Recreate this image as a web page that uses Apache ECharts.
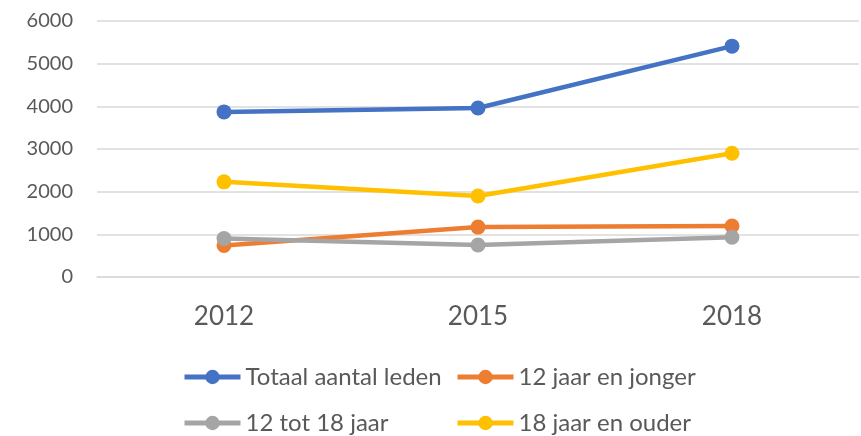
<!DOCTYPE html>
<html>
<head>
<meta charset="utf-8">
<script src="https://cdn.jsdelivr.net/npm/echarts@6/dist/echarts.min.js"></script>
<style>
  html, body { margin: 0; padding: 0; background: #fff; }
  #lineChart { width: 861px; height: 436px; }
</style>
</head>
<body>
<div id="lineChart"></div>
<script>
// data
var years = ['2012', '2015', '2018'];
var totaal = [3870, 3960, 5410];
var jonger12 = [740, 1170, 1195];
var tot18 = [900, 750, 930];
var ouder18 = [2230, 1900, 2900];
var yTicks = [0, 1000, 2000, 3000, 4000, 5000, 6000];

var font = 'Lato';
var textColor = '#595959';

function makeSeries(name, color, data) {
  return {
    name: name,
    type: 'line',
    data: data,
    symbol: 'circle',
    symbolSize: 15,
    itemStyle: { color: color },
    lineStyle: { color: color, width: 4.5 },
    emphasis: { disabled: true }
  };
}

// one legend per entry so the two columns line up
function makeLegend(name, left, top) {
  return {
    data: [name],
    left: left,
    top: top,
    itemWidth: 56,
    itemHeight: 18,
    lineStyle: { width: 5 },
    textStyle: { fontFamily: font, fontSize: 24, color: textColor }
  };
}

var chart = echarts.init(document.getElementById('lineChart'));
chart.setOption({
  animation: false,
  grid: { left: 97, right: 2, top: 21, bottom: 159 },
  legend: [
    makeLegend('Totaal aantal leden', 177, 360),
    makeLegend('12 jaar en jonger', 450, 360),
    makeLegend('12 tot 18 jaar', 177, 406),
    makeLegend('18 jaar en ouder', 450, 406)
  ],
  xAxis: {
    type: 'category',
    data: years,
    boundaryGap: true,
    axisLine: { show: true, lineStyle: { color: '#D9D9D9', width: 1.5 } },
    axisTick: { show: false },
    axisLabel: { fontFamily: font, fontSize: 26, color: textColor, margin: 27 }
  },
  yAxis: {
    type: 'value',
    min: yTicks[0],
    max: yTicks[yTicks.length - 1],
    interval: 1000,
    axisLine: { show: false },
    axisTick: { show: false },
    splitLine: { lineStyle: { color: '#D9D9D9', width: 1.5 } },
    axisLabel: {
      fontFamily: font, fontSize: 20, color: textColor, margin: 24,
      formatter: function (v) { return String(v); }
    }
  },
  series: [
    makeSeries('Totaal aantal leden', '#4472C4', totaal),
    makeSeries('12 jaar en jonger', '#ED7D31', jonger12),
    makeSeries('12 tot 18 jaar', '#A5A5A5', tot18),
    makeSeries('18 jaar en ouder', '#FFC000', ouder18)
  ]
});
</script>
</body>
</html>
